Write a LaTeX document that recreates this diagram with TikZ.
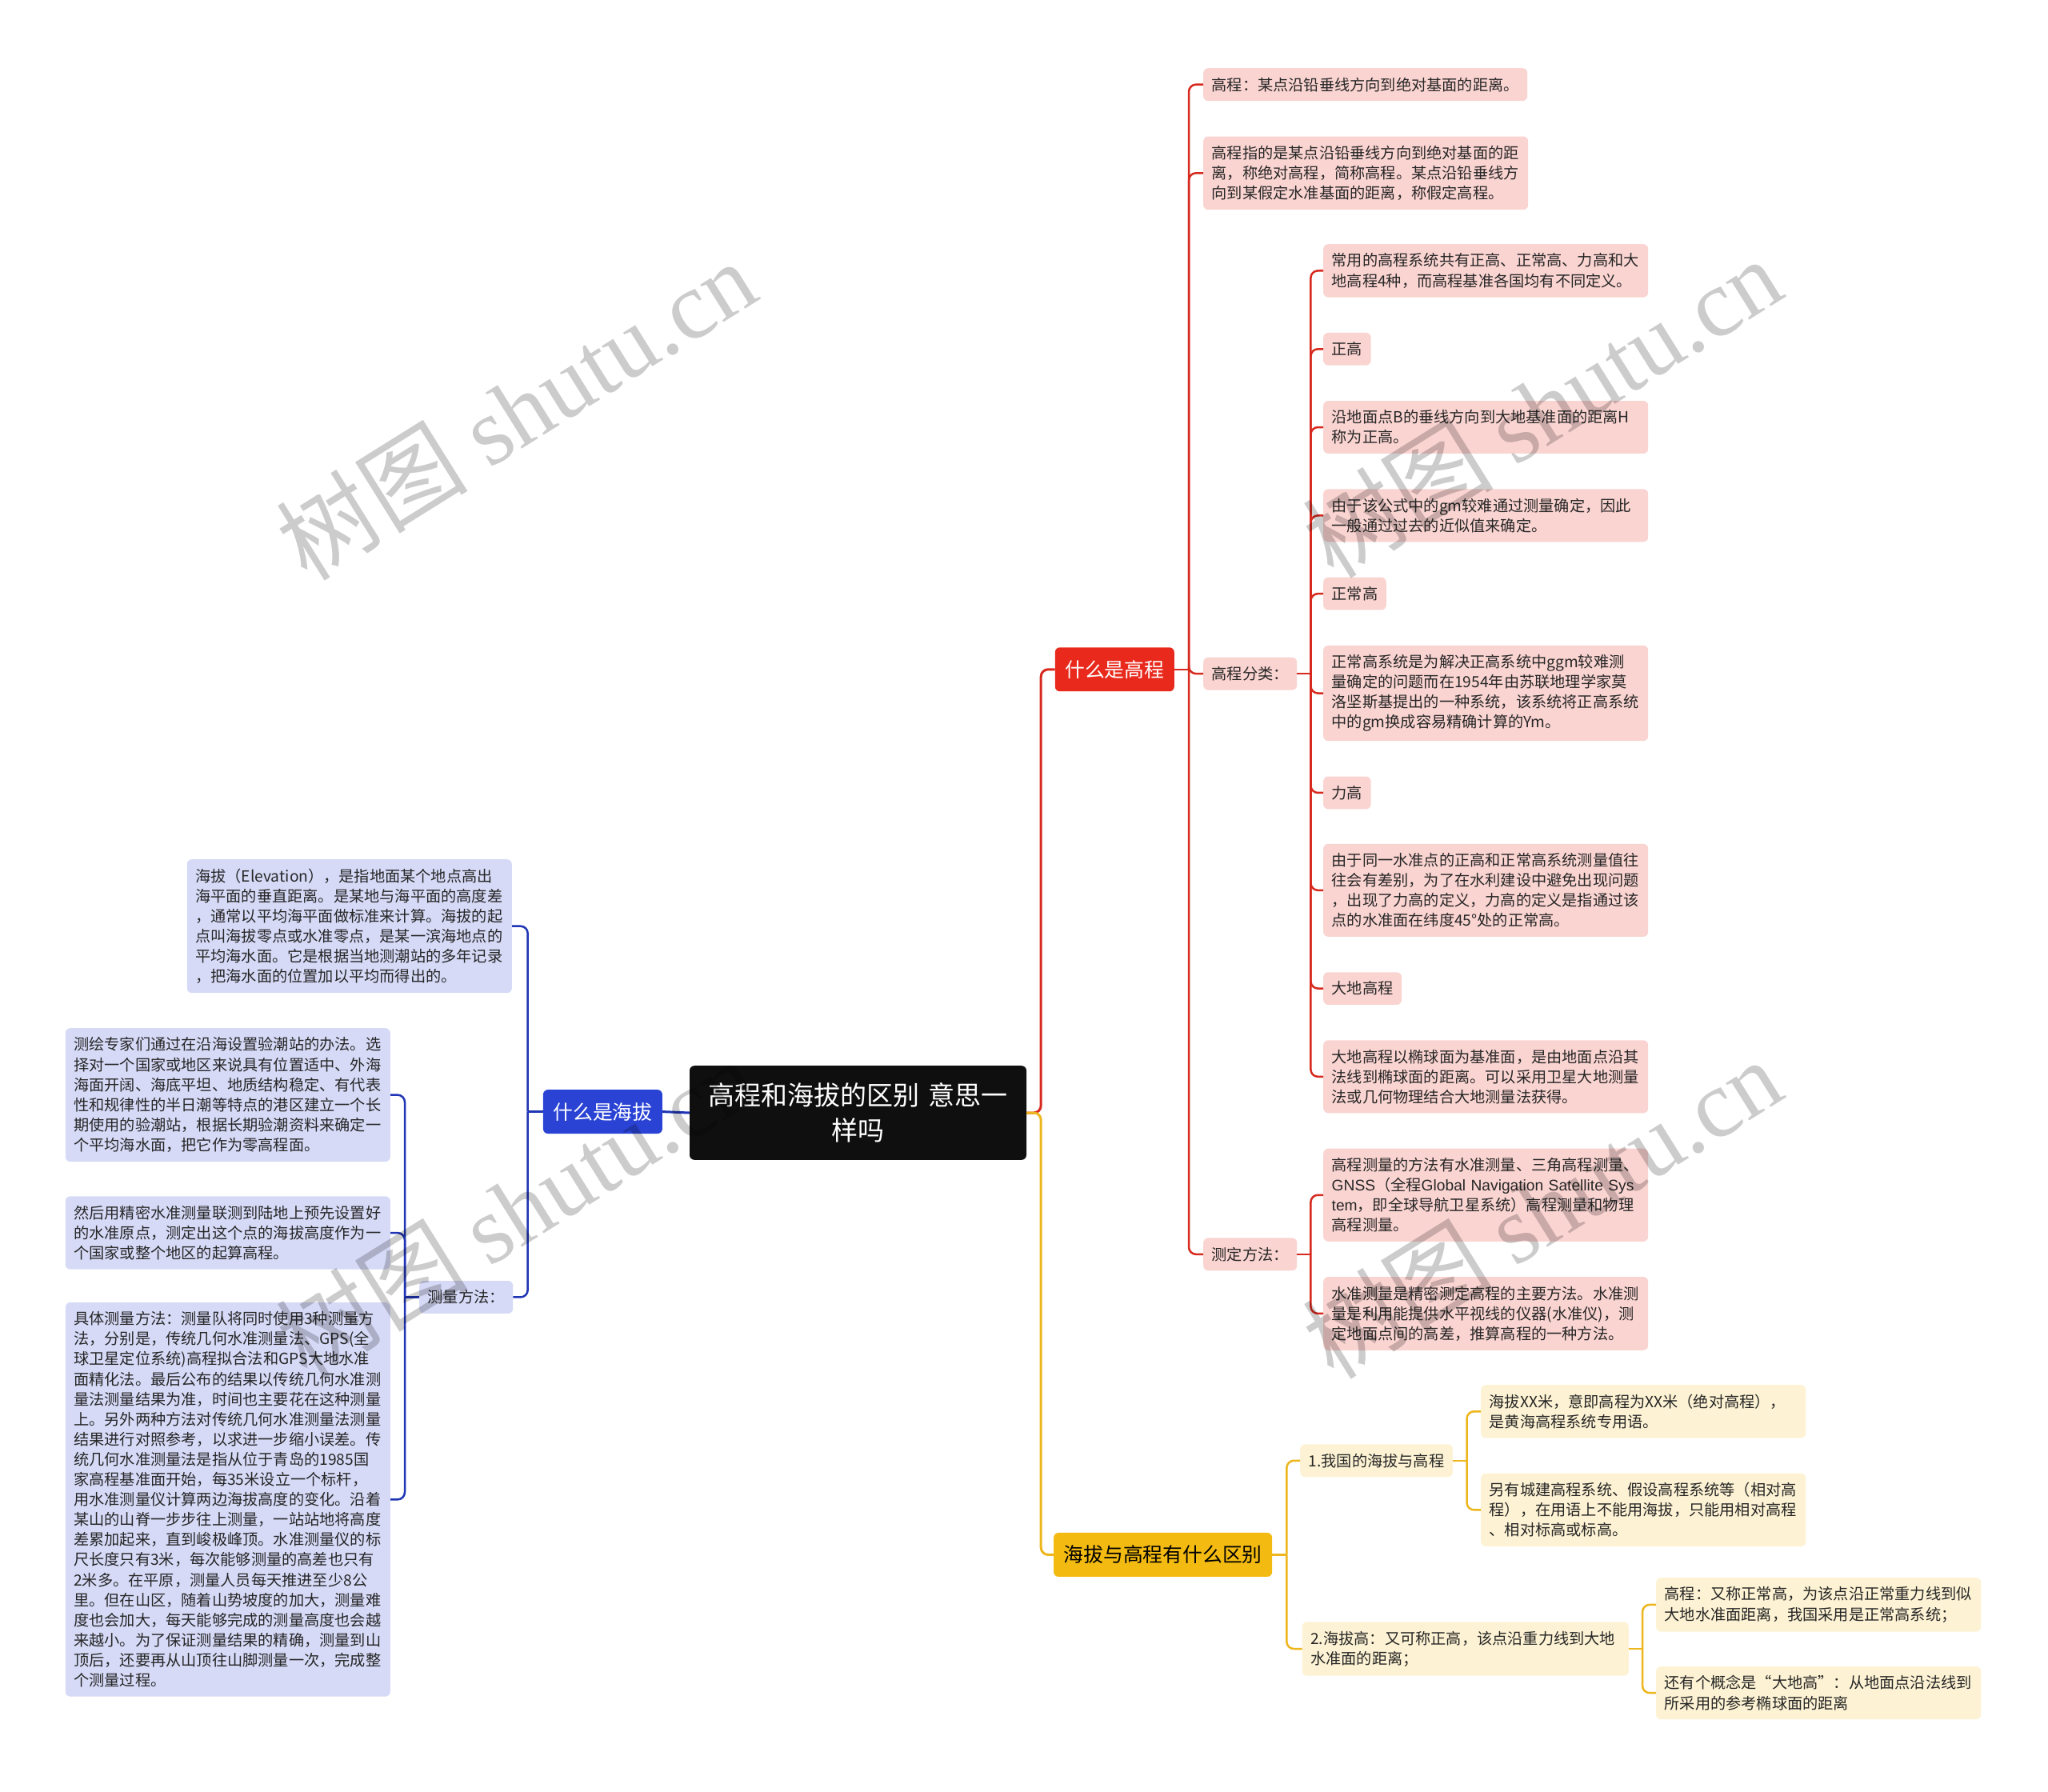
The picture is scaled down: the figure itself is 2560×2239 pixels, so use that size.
\documentclass[tikz,border=0pt]{standalone}
\usepackage{fontspec}
\setmainfont{Noto Sans CJK SC}
\newfontfamily\wmfont{Liberation Serif}
\newfontfamily\lat{Liberation Sans}
\usetikzlibrary{positioning, calc}
\definecolor{rootblack}{HTML}{0F0F0F}
\definecolor{hired}{HTML}{E8291C}
\definecolor{redline}{HTML}{D7291E}
\definecolor{redleaf}{HTML}{FAD4D1}
\definecolor{hiblue}{HTML}{2A43D5}
\definecolor{blueline}{HTML}{1F35B5}
\definecolor{blueleaf}{HTML}{D6DAF7}
\definecolor{higold}{HTML}{F3BB12}
\definecolor{goldline}{HTML}{EDB61C}
\definecolor{goldleaf}{HTML}{FDF2D3}

\begin{document}
\begin{tikzpicture}[x=1pt, y=-1pt,
    zhuti/.style={fill=rootblack, text=white, rounded corners=6pt, text width=380pt,
      align=center, inner xsep=20.5pt, inner ysep=21.5pt, font=\fontsize{33}{44}\selectfont},
    fenzhi/.style={fill=#1, rounded corners=6pt, inner xsep=12.5pt, inner ysep=16pt,
      font=\fontsize{24.8}{30}\selectfont},
    ye/.style={fill=#1, rounded corners=6pt, inner xsep=10.5pt, inner ysep=11.5pt,
      align=left, text=black!85, font=\fontsize{19.2}{25.1}\selectfont},
    kuan/.style={text width=385pt},
    xian/.style={draw=#1, line width=2.5pt, rounded corners=9pt},
    zhuxian/.style={draw=#1, line width=3pt, rounded corners=9pt},
    shuiyin/.style={text=black, text opacity=0.2, font=\fontsize{120}{120}\selectfont}]
  \fill[white] (0,0) rectangle (2560,2239);
  \useasboundingbox (0,0) rectangle (2560,2239);

  \node[zhuti] (zt) at (1072.5,1391) {高程和海拔的区别 意思一\\样吗};

  % 什么是高程
  \node[ye=redleaf, anchor=north west] (r1) at (1504,85) {高程：某点沿铅垂线方向到绝对基面的距离。};
  \node[ye=redleaf, kuan, below=44pt of r1.south west, anchor=north west] (r2)
    {高程指的是某点沿铅垂线方向到绝对基面的距\\离，称绝对高程，简称高程。某点沿铅垂线方\\向到某假定水准基面的距离，称假定高程。};
  \node[ye=redleaf, kuan, anchor=north west] (c1) at (1654,305)
    {常用的高程系统共有正高、正常高、力高和大\\地高程4种，而高程基准各国均有不同定义。};
  \node[ye=redleaf, below=44pt of c1.south west, anchor=north west] (c2) {正高};
  \node[ye=redleaf, kuan, below=44pt of c2.south west, anchor=north west] (c3)
    {沿地面点B的垂线方向到大地基准面的距离H\\称为正高。};
  \node[ye=redleaf, kuan, below=44pt of c3.south west, anchor=north west] (c4)
    {由于该公式中的gm较难通过测量确定，因此\\一般通过过去的近似值来确定。};
  \node[ye=redleaf, below=44pt of c4.south west, anchor=north west] (c5) {正常高};
  \node[ye=redleaf, kuan, below=44pt of c5.south west, anchor=north west] (c6)
    {正常高系统是为解决正高系统中ggm较难测\\量确定的问题而在1954年由苏联地理学家莫\\洛坚斯基提出的一种系统，该系统将正高系统\\中的gm换成容易精确计算的Ym。};
  \node[ye=redleaf, below=44pt of c6.south west, anchor=north west] (c7) {力高};
  \node[ye=redleaf, kuan, below=43pt of c7.south west, anchor=north west] (c8)
    {由于同一水准点的正高和正常高系统测量值往\\往会有差别，为了在水利建设中避免出现问题\\，出现了力高的定义，力高的定义是指通过该\\点的水准面在纬度45°处的正常高。};
  \node[ye=redleaf, below=44pt of c8.south west, anchor=north west] (c9) {大地高程};
  \node[ye=redleaf, kuan, below=44pt of c9.south west, anchor=north west] (c10)
    {大地高程以椭球面为基准面，是由地面点沿其\\法线到椭球面的距离。可以采用卫星大地测量\\法或几何物理结合大地测量法获得。};
  \node[ye=redleaf, kuan, below=44pt of c10.south west, anchor=north west] (m1)
    {高程测量的方法有水准测量、三角高程测量、\\\mbox{{\lat GNSS}（全程{\lat Global Navigation Satellite Sys}}\\{\lat tem}，即全球导航卫星系统）高程测量和物理\\高程测量。};
  \node[ye=redleaf, kuan, below=44pt of m1.south west, anchor=north west] (m2)
    {水准测量是精密测定高程的主要方法。水准测\\量是利用能提供水平视线的仪器(水准仪)，测\\定地面点间的高差，推算高程的一种方法。};
  \coordinate (cm) at ($(c1.west)!.5!(c10.west)$);
  \node[ye=redleaf, anchor=west] (rcls) at (r1.west |- cm) {高程分类：};
  \coordinate (mm) at ($(m1.west)!.5!(m2.west)$);
  \node[ye=redleaf, anchor=west] (rmeth) at (r1.west |- mm) {测定方法：};
  \coordinate (rm) at ($(r1.west)!.5!(rmeth.west)$);
  \node[fenzhi=hired, text=white, left=36pt of rm] (rt) {什么是高程};

  % 海拔与高程有什么区别
  \node[ye=goldleaf, kuan, anchor=north west] (g11) at (1851,1731)
    {海拔XX米，意即高程为XX米（绝对高程），\\是黄海高程系统专用语。};
  \node[ye=goldleaf, kuan, below=44pt of g11.south west, anchor=north west] (g12)
    {另有城建高程系统、假设高程系统等（相对高\\程），在用语上不能用海拔，只能用相对高程\\、相对标高或标高。};
  \node[ye=goldleaf, kuan, anchor=north west] (g21) at (2070,1972)
    {高程：又称正常高，为该点沿正常重力线到似\\大地水准面距离，我国采用是正常高系统；};
  \node[ye=goldleaf, kuan, below=43pt of g21.south west, anchor=north west] (g22)
    {还有个概念是“大地高”：从地面点沿法线到\\所采用的参考椭球面的距离};
  \coordinate (g1m) at ($(g11.west)!.5!(g12.west)$);
  \node[ye=goldleaf, left=35pt of g1m] (g1) {1.我国的海拔与高程};
  \coordinate (g2m) at ($(g21.west)!.5!(g22.west)$);
  \node[ye=goldleaf, text width=387pt, left=34pt of g2m] (g2)
    {2.海拔高：又可称正高，该点沿重力线到大地\\水准面的距离；};
  \coordinate (gm) at ($(g1.west)!.5!(g2.west)$);
  \node[fenzhi=higold, text=black, left=36pt of gm] (gt) {海拔与高程有什么区别};

  % 什么是海拔
  \node[ye=blueleaf, kuan, anchor=north east] (b1) at (640,1074)
    {海拔（Elevation），是指地面某个地点高出\\海平面的垂直距离。是某地与海平面的高度差\\，通常以平均海平面做标准来计算。海拔的起\\点叫海拔零点或水准零点，是某一滨海地点的\\平均海水面。它是根据当地测潮站的多年记录\\，把海水面的位置加以平均而得出的。};
  \node[ye=blueleaf, kuan, anchor=north east] (bm1) at (488,1285)
    {测绘专家们通过在沿海设置验潮站的办法。选\\择对一个国家或地区来说具有位置适中、外海\\海面开阔、海底平坦、地质结构稳定、有代表\\性和规律性的半日潮等特点的港区建立一个长\\期使用的验潮站，根据长期验潮资料来确定一\\个平均海水面，把它作为零高程面。};
  \node[ye=blueleaf, kuan, below=43pt of bm1.south east, anchor=north east] (bm2)
    {然后用精密水准测量联测到陆地上预先设置好\\的水准原点，测定出这个点的海拔高度作为一\\个国家或整个地区的起算高程。};
  \node[ye=blueleaf, kuan, below=41pt of bm2.south east, anchor=north east] (bm3)
    {具体测量方法：测量队将同时使用3种测量方\\法，分别是，传统几何水准测量法、GPS(全\\球卫星定位系统)高程拟合法和GPS大地水准\\面精化法。最后公布的结果以传统几何水准测\\量法测量结果为准，时间也主要花在这种测量\\上。另外两种方法对传统几何水准测量法测量\\结果进行对照参考，以求进一步缩小误差。传\\统几何水准测量法是指从位于青岛的1985国\\家高程基准面开始，每35米设立一个标杆，\\用水准测量仪计算两边海拔高度的变化。沿着\\某山的山脊一步步往上测量，一站站地将高度\\差累加起来，直到峻极峰顶。水准测量仪的标\\尺长度只有3米，每次能够测量的高差也只有\\2米多。在平原，测量人员每天推进至少8公\\里。但在山区，随着山势坡度的加大，测量难\\度也会加大，每天能够完成的测量高度也会越\\来越小。为了保证测量结果的精确，测量到山\\顶后，还要再从山顶往山脚测量一次，完成整\\个测量过程。};
  \coordinate (bmm) at ($(bm1.east)!.5!(bm3.east)$);
  \node[ye=blueleaf, right=36pt of bmm] (bm) {测量方法：};
  \coordinate (bmid) at ($(b1.east)!.5!(bm.east)$);
  \node[fenzhi=hiblue, text=white, right=38pt of bmid] (bt) {什么是海拔};

  % connectors
  \draw[zhuxian=redline] (zt.east) -- ++(18pt,0) coordinate (zr) |- (rt.west);
  \draw[zhuxian=goldline] (zt.east) -- (zr) |- (gt.west);
  \draw[zhuxian=blueline] (zt.west) -- (bt.east);

  \draw[xian=redline] (rt.east) -- ++(18pt,0) coordinate (rs);
  \draw[xian=redline] (rs) |- (r1.west);
  \draw[xian=redline] (rs) |- (r2.west);
  \draw[xian=redline] (rs) |- (rcls.west);
  \draw[xian=redline] (rs) |- (rmeth.west);
  \draw[xian=redline] (rcls.east) -- ++(17pt,0) coordinate (cs);
  \draw[xian=redline] (cs) |- (c1.west);
  \draw[xian=redline] (cs) |- (c2.west);
  \draw[xian=redline] (cs) |- (c3.west);
  \draw[xian=redline] (cs) |- (c4.west);
  \draw[xian=redline] (cs) |- (c5.west);
  \draw[xian=redline] (cs) |- (c6.west);
  \draw[xian=redline] (cs) |- (c7.west);
  \draw[xian=redline] (cs) |- (c8.west);
  \draw[xian=redline] (cs) |- (c9.west);
  \draw[xian=redline] (cs) |- (c10.west);
  \draw[xian=redline] (rmeth.east) -- ++(17pt,0) coordinate (ms);
  \draw[xian=redline] (ms) |- (m1.west);
  \draw[xian=redline] (ms) |- (m2.west);

  \draw[xian=goldline] (gt.east) -- ++(18pt,0) coordinate (gs);
  \draw[xian=goldline] (gs) |- (g1.west);
  \draw[xian=goldline] (gs) |- (g2.west);
  \draw[xian=goldline] (g1.east) -- ++(17.5pt,0) coordinate (g1s);
  \draw[xian=goldline] (g1s) |- (g11.west);
  \draw[xian=goldline] (g1s) |- (g12.west);
  \draw[xian=goldline] (g2.east) -- ++(17pt,0) coordinate (g2s);
  \draw[xian=goldline] (g2s) |- (g21.west);
  \draw[xian=goldline] (g2s) |- (g22.west);

  \draw[xian=blueline] (bt.west) -- ++(-19pt,0) coordinate (bs);
  \draw[xian=blueline] (bs) |- (b1.east);
  \draw[xian=blueline] (bs) |- (bm.east);
  \draw[xian=blueline] (bm.west) -- ++(-18pt,0) coordinate (bms);
  \draw[xian=blueline] (bms) |- (bm1.east);
  \draw[xian=blueline] (bms) |- (bm2.east);
  \draw[xian=blueline] (bms) |- (bm3.east);

  % watermarks
  \node[shuiyin, rotate=32] (w1) at (645,512) {树图 {\wmfont shutu.cn}};
  \node[shuiyin, rotate=32] (w2) at (1927,509) {树图 {\wmfont shutu.cn}};
  \node[shuiyin, rotate=32] (w3) at (1927,1510) {树图 {\wmfont shutu.cn}};
  \node[shuiyin, rotate=32] (w4) at (645,1510) {树图 {\wmfont shutu.cn}};
\end{tikzpicture}
\end{document}
